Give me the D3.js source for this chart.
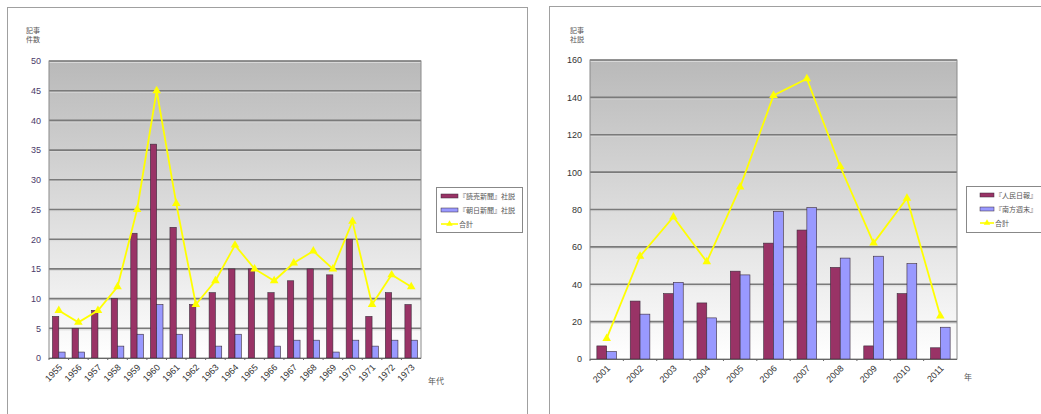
<!DOCTYPE html>
<html>
<head>
<meta charset="utf-8">
<script src="https://cdn.jsdelivr.net/npm/d3@7"></script>
<style>
body { margin:0; background:#fff; }
svg { font-family: "Liberation Sans", "DejaVu Sans", sans-serif; }
.cjk { font-family: "Noto Sans CJK JP", sans-serif; }
</style>
</head>
<body>
<svg id="chart" width="1041" height="414"></svg>
<script>
// left chart: 1955-1973
var yearsA = ["1955","1956","1957","1958","1959","1960","1961","1962","1963","1964","1965","1966","1967","1968","1969","1970","1971","1972","1973"];
var yomiuri = [7,5,8,10,21,36,22,9,11,15,15,11,13,15,14,20,7,11,9];
var asahi   = [1,1,0,2,4,9,4,0,2,4,0,2,3,3,1,3,2,3,3];
var totalA  = [8,6,8,12,25,45,26,9,13,19,15,13,16,18,15,23,9,14,12];
var ticksA  = [0,5,10,15,20,25,30,35,40,45,50];
var legendA = ["『読売新聞』社説","『朝日新聞』社説","合計"];

// right chart: 2001-2011
var yearsB = ["2001","2002","2003","2004","2005","2006","2007","2008","2009","2010","2011"];
var renmin  = [7,31,35,30,47,62,69,49,7,35,6];
var nanfang = [4,24,41,22,45,79,81,54,55,51,17];
var totalB  = [11,55,76,52,92,141,150,103,62,86,23];
var ticksB  = [0,20,40,60,80,100,120,140,160];
var legendB = ["『人民日報』","『南方週末』","合計"];

var svg = d3.select("#chart");

var defs = svg.append("defs");
var grad = defs.append("linearGradient").attr("id","bg").attr("x1",0).attr("y1",0).attr("x2",0).attr("y2",1);
grad.append("stop").attr("offset","0%").attr("stop-color","#b9b9b9");
grad.append("stop").attr("offset","100%").attr("stop-color","#ffffff");

var drawChart = function(o){
	var g = svg.append("g");
	// frame
	g.append("rect").attr("x",o.frame[0]+0.5).attr("y",o.frame[1]+0.5)
		.attr("width",o.frame[2]).attr("height",o.frame[3])
		.attr("fill","#fff").attr("stroke","#a0a0a0");

	var x = d3.scaleBand().domain(o.cats).range([o.left,o.right]);
	var y = d3.scaleLinear().domain([0,o.ticks[o.ticks.length-1]]).range([o.bottom,o.top]);
	var x1 = d3.scaleBand().domain([0,1]).range([0,x.bandwidth()]).paddingInner(0).paddingOuter(o.pad);

	g.append("rect").attr("x",o.left).attr("y",o.top)
		.attr("width",o.right-o.left).attr("height",o.bottom-o.top)
		.attr("fill","url(#bg)");

	// grid lines
	o.ticks.forEach(function(t){
		if(t==0) return;
		g.append("line").attr("x1",o.left).attr("x2",o.right)
			.attr("y1",y(t)+1.5).attr("y2",y(t)+1.5)
			.attr("stroke","#d8d8d8").attr("stroke-width",1);
		g.append("line").attr("x1",o.left).attr("x2",o.right)
			.attr("y1",y(t)).attr("y2",y(t))
			.attr("stroke","#7a7a7a").attr("stroke-width",1.6);
	});
	g.append("rect").attr("x",o.left).attr("y",o.top)
		.attr("width",o.right-o.left).attr("height",o.bottom-o.top)
		.attr("fill","none").attr("stroke","#8a8a8a").attr("stroke-width",1);

	// y tick labels
	var ya = g.append("g").attr("transform","translate("+o.left+",0)")
		.call(d3.axisLeft(y).tickValues(o.ticks).tickSize(0).tickPadding(o.tickPad));
	ya.select(".domain").remove();
	ya.selectAll("text").attr("font-size",9).attr("fill",o.tickColor);

	// bars
	var series = [o.a,o.b];
	var fills = ["#993366","#9999ff"];
	series.forEach(function(s,si){
		g.selectAll("rect.s"+si).data(s).enter().append("rect")
			.attr("class","s"+si)
			.attr("x",function(d,i){return x(o.cats[i])+x1(si);})
			.attr("y",function(d){return y(d);})
			.attr("width",x1.bandwidth())
			.attr("height",function(d){return o.bottom-y(d);})
			.attr("fill",fills[si]).attr("stroke","#3a2a3a").attr("stroke-width",0.6);
	});

	// bottom axis
	g.append("line").attr("x1",o.left).attr("x2",o.right).attr("y1",o.bottom+0.5).attr("y2",o.bottom+0.5)
		.attr("stroke","#666").attr("stroke-width",1);
	o.cats.forEach(function(c,i){
		g.append("line").attr("x1",x(c)).attr("x2",x(c)).attr("y1",o.bottom).attr("y2",o.bottom+2)
			.attr("stroke","#666");
	});
	g.selectAll("text.xl").data(o.cats).enter().append("text")
		.attr("class","xl")
		.attr("transform",function(d){return "translate("+(x(d)+x.bandwidth()/2+4)+","+(o.bottom+10)+") rotate(-45)";})
		.attr("text-anchor","end").attr("font-size",9).attr("fill","#333")
		.text(function(d){return d;});

	// total line
	var line = d3.line()
		.x(function(d,i){return x(o.cats[i])+x.bandwidth()/2;})
		.y(function(d){return y(d);});
	g.append("path").attr("d",line(o.total)).attr("fill","none")
		.attr("stroke","#ffff00").attr("stroke-width",1.8);
	var tri = d3.symbol().type(d3.symbolTriangle).size(32);
	g.selectAll("path.mk").data(o.total).enter().append("path")
		.attr("class","mk")
		.attr("transform",function(d,i){return "translate("+(x(o.cats[i])+x.bandwidth()/2)+","+y(d)+")";})
		.attr("d",tri).attr("fill","#ffff00");

	// titles
	g.append("text").attr("class","cjk").attr("x",o.ytitle[0]).attr("y",o.ytitle[1])
		.attr("font-size",7).attr("fill","#555").attr("text-anchor","middle").text(o.ylab[0]);
	g.append("text").attr("class","cjk").attr("x",o.ytitle[0]).attr("y",o.ytitle[1]+9)
		.attr("font-size",7).attr("fill","#555").attr("text-anchor","middle").text(o.ylab[1]);
	g.append("text").attr("class","cjk").attr("x",o.xtitle[0]).attr("y",o.xtitle[1])
		.attr("font-size",8).attr("fill","#555").text(o.xlab);

	// legend
	var L = o.legend;
	g.append("rect").attr("x",L[0]+0.5).attr("y",L[1]+0.5).attr("width",L[2]).attr("height",L[3])
		.attr("fill","#fff").attr("stroke","#888");
	o.legendText.forEach(function(t,i){
		var ly = L[1]+9+i*14;
		if(i<2){
			g.append("rect").attr("x",L[0]+o.swX).attr("y",ly-2).attr("width",o.swW).attr("height",4)
				.attr("fill",fills[i]).attr("stroke","#3a2a3a").attr("stroke-width",0.5);
		}else{
			g.append("line").attr("x1",L[0]+o.swX).attr("x2",L[0]+o.swX+o.swW).attr("y1",ly).attr("y2",ly)
				.attr("stroke","#ffff00").attr("stroke-width",1.6);
			g.append("path").attr("transform","translate("+(L[0]+o.swX+o.swW/2)+","+ly+")")
				.attr("d",d3.symbol().type(d3.symbolTriangle).size(18)).attr("fill","#ffff00");
		}
		g.append("text").attr("class","cjk").attr("x",L[0]+o.swX+o.swW+1).attr("y",ly+3)
			.attr("font-size",7).attr("fill","#555").text(t);
	});
};

drawChart({
	frame:[7,7,520,420], left:49, right:421, top:61, bottom:358,
	cats:yearsA, a:yomiuri, b:asahi, total:totalA, ticks:ticksA, pad:0.55,
	tickPad:8, tickColor:"#4a3a6a",
	ytitle:[33,33], ylab:["記事","件数"], xtitle:[428,384], xlab:"年代",
	legend:[436,187,86,45], legendText:legendA, swX:5, swW:17
});
drawChart({
	frame:[549,6,500,420], left:590, right:957, top:60, bottom:359,
	cats:yearsB, a:renmin, b:nanfang, total:totalB, ticks:ticksB, pad:0.7,
	tickPad:8, tickColor:"#333",
	ytitle:[577,33], ylab:["記事","社説"], xtitle:[964,380], xlab:"年",
	legend:[966,186,80,46], legendText:legendB, swX:14, swW:14
});
</script>
</body>
</html>
